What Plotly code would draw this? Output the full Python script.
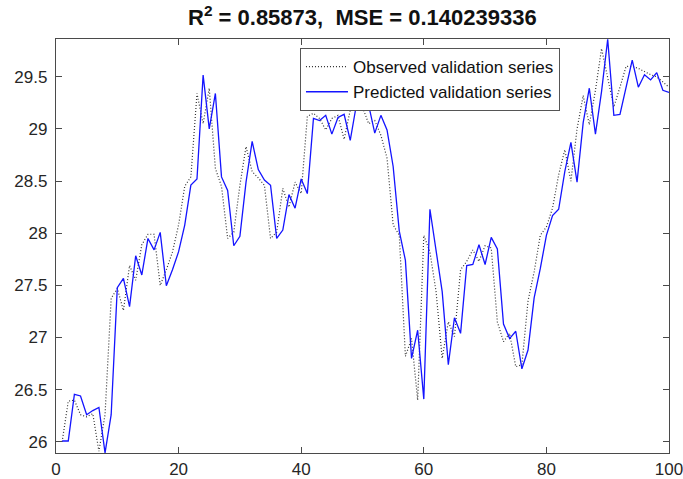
import plotly.graph_objects as go

x_index = list(range(1, 101))

observed = [
    26.00, 26.39, 26.40, 26.26, 26.24, 26.27, 25.91, 26.26, 27.375, 27.47,
    27.26, 27.69, 27.55, 27.89, 27.99, 27.99, 27.50, 27.65, 27.82, 28.08,
    28.45, 28.54, 29.34, 29.05, 29.39, 28.62, 28.45, 27.95, 28.01, 28.46,
    28.83, 28.59, 28.53, 28.46, 27.95, 28.01, 28.43, 28.25, 28.49, 28.38,
    29.12, 29.15, 29.10, 28.99, 29.10, 29.13, 28.90, 29.18, 29.21, 29.21,
    29.05, 29.08, 28.94, 28.72, 28.08, 27.98, 26.82, 26.99, 26.40, 27.98,
    27.82, 27.44, 26.80, 27.15, 27.01, 27.65, 27.73, 27.84, 27.73, 27.88,
    27.86, 27.15, 26.96, 27.04, 26.72, 26.74, 27.35, 27.63, 27.98, 28.06,
    28.24, 28.56, 28.80, 28.50, 29.00, 29.32, 29.04, 29.37, 29.77, 29.50,
    29.21, 29.40, 29.60, 29.60, 29.58, 29.55, 29.52, 29.50, 29.45, 29.40,
]

predicted = [
    26.008, 26.008, 26.455, 26.44, 26.26, 26.30, 26.33, 25.895, 26.26, 27.478,
    27.567, 27.296, 27.784, 27.60, 27.95, 27.84, 28.008, 27.497, 27.65, 27.823,
    28.078, 28.462, 28.52, 29.516, 29.00, 29.34, 28.54, 28.41, 27.88, 27.97,
    28.49, 28.88, 28.61, 28.51, 28.46, 27.95, 28.03, 28.37, 28.24, 28.52,
    28.38, 29.10, 29.08, 29.13, 28.95, 29.11, 29.14, 28.89, 29.23, 29.22,
    29.23, 28.96, 29.13, 28.99, 28.64, 28.02, 27.74, 26.80, 27.07, 26.41,
    28.23, 27.82, 27.44, 26.74, 27.19, 27.04, 27.69, 27.70, 27.89, 27.70,
    27.96, 27.85, 27.13, 26.99, 27.06, 26.70, 26.88, 27.38, 27.66, 27.98,
    28.17, 28.23, 28.59, 28.87, 28.49, 29.06, 29.39, 28.95, 29.36, 29.86,
    29.13, 29.14, 29.39, 29.66, 29.40, 29.52, 29.47, 29.54, 29.37, 29.35,
]

x_ticks = [0, 20, 40, 60, 80, 100]
y_ticks = [26, 26.5, 27, 27.5, 28, 28.5, 29, 29.5]
y_ticklabels = ["26", "26.5", "27", "27.5", "28", "28.5", "29", "29.5"]

title_text = "R<sup>2</sup> = 0.85873,\u00a0\u00a0MSE = 0.140239336"

FONT = "Liberation Sans, Arial, sans-serif"
AXIS_COLOR = "#4a4a4a"

fig = go.Figure()
fig.add_trace(go.Scatter(
    x=x_index, y=observed, mode="lines", name="Observed validation series",
    line=dict(color="#333333", width=1.2, dash="1px,2px"),
))
fig.add_trace(go.Scatter(
    x=x_index, y=predicted, mode="lines", name="Predicted validation series",
    line=dict(color="#1414ff", width=1.3),
))

fig.update_layout(
    width=683, height=479,
    margin=dict(l=56, r=14, t=39, b=26, autoexpand=False),
    paper_bgcolor="white", plot_bgcolor="white",
    font=dict(family=FONT, size=17, color="#262626"),
    title=dict(text="<b>" + title_text + "</b>", x=0.5305, xanchor="center",
               yref="container", y=0.963, yanchor="middle",
               font=dict(family=FONT, size=22, color="#111111")),
    showlegend=True,
    legend=dict(x=0.398, y=0.978, xanchor="left", yanchor="top",
                bgcolor="white", bordercolor="#555555", borderwidth=1,
                font=dict(family=FONT, size=17, color="#111111"),
                tracegroupgap=0, itemwidth=42),
)
fig.update_xaxes(
    range=[0, 100], tickvals=x_ticks, ticks="inside", ticklen=6, tickwidth=1,
    tickcolor=AXIS_COLOR, showline=True, linecolor=AXIS_COLOR, linewidth=1.3,
    mirror="ticks", showgrid=False, zeroline=False, ticklabelstandoff=0,
    ticklabeloverflow="allow", automargin=False,
    tickfont=dict(family=FONT, size=17, color="#262626"),
)
fig.update_yaxes(
    range=[25.893, 29.862], tickvals=y_ticks, ticktext=y_ticklabels,
    ticks="inside", ticklen=6, tickwidth=1, ticklabelstandoff=4,
    tickcolor=AXIS_COLOR, showline=True, linecolor=AXIS_COLOR, linewidth=1.3,
    mirror="ticks", showgrid=False, zeroline=False, automargin=False,
    tickfont=dict(family=FONT, size=17, color="#262626"),
)

fig.write_html("out.html")
